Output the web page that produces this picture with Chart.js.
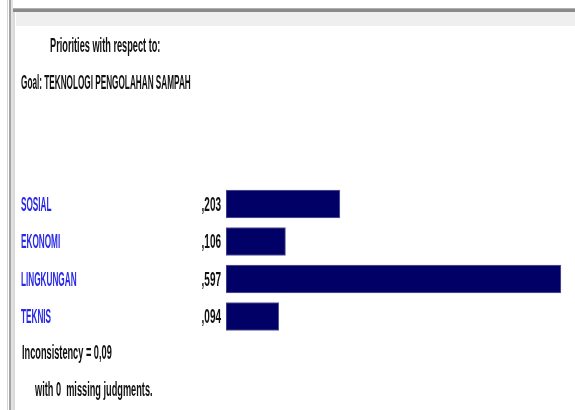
<!DOCTYPE html>
<html>
<head>
<meta charset="utf-8">
<script src="https://cdn.jsdelivr.net/npm/chart.js@4"></script>
<style>
  html, body { margin: 0; padding: 0; background: #fff; }
  #wrap { position: relative; width: 575px; height: 410px; }
</style>
</head>
<body>
<div id="wrap"><canvas id="priorityChart" width="575" height="410"></canvas></div>
<script>
  // data
  const categories = ['SOSIAL', 'EKONOMI', 'LINGKUNGAN', 'TEKNIS'];
  const priorities = [0.203, 0.106, 0.597, 0.094];
  const headerLines = ['Priorities with respect to:', 'Goal: TEKNOLOGI PENGOLAHAN SAMPAH'];
  const inconsistency = 0.09;
  const missingJudgments = 0;

  const FONT = 'bold 20px "Liberation Sans", Arial, sans-serif';
  // the original text is squashed sideways; caps get squeezed a bit harder
  const SQUEEZE_CAPS = 0.41;
  const SQUEEZE_TEXT = 0.46;
  const SQUEEZE_NUM = 0.5;

  // comma decimal: 0.203 -> 0,203
  function fmt(v, digits) {
    return v.toFixed(digits).replace('.', ',');
  }

  function squeezedText(ctx, text, x, y, color, align, sx) {
    ctx.save();
    ctx.font = FONT;
    ctx.fillStyle = color;
    ctx.textBaseline = 'middle';
    const w = ctx.measureText(text).width * sx;
    const left = align === 'right' ? x - w : x;
    ctx.translate(left, y);
    ctx.scale(sx, 1);
    ctx.textAlign = 'left';
    ctx.fillText(text, 0, 0);
    ctx.restore();
  }

  // window frame + all the text around the bars
  const framePlugin = {
    id: 'framePlugin',
    beforeDraw(chart) {
      const ctx = chart.ctx;
      ctx.save();
      ctx.fillStyle = '#ffffff';
      ctx.fillRect(0, 0, chart.width, chart.height);
      // left border
      ctx.fillStyle = '#d4d4d4';
      ctx.fillRect(7, 0, 1, chart.height);
      ctx.fillStyle = '#a4a4a4';
      ctx.fillRect(9, 0, 2, chart.height);
      ctx.fillStyle = '#e2e2e2';
      ctx.fillRect(11, 0, 2, chart.height);
      // top bar
      ctx.fillStyle = '#b0b0b0';
      ctx.fillRect(13, 8, chart.width - 13, 1);
      ctx.fillStyle = '#8a8a8a';
      ctx.fillRect(13, 9, chart.width - 13, 3);
      ctx.fillStyle = '#efefef';
      ctx.fillRect(16, 12, chart.width - 16, 14);
      ctx.fillStyle = '#dadada';
      ctx.fillRect(13, 12, 2, chart.height - 12);
      ctx.restore();
    },
    afterDraw(chart) {
      const ctx = chart.ctx;
      const yScale = chart.scales.y;
      const area = chart.chartArea;

      squeezedText(ctx, headerLines[0], 50, 46, '#111111', 'left', SQUEEZE_TEXT);
      squeezedText(ctx, headerLines[1], 21, 83, '#111111', 'left', SQUEEZE_CAPS);

      categories.forEach((name, i) => {
        const y = yScale.getPixelForValue(i) + 1;
        squeezedText(ctx, name, 21, y, '#2828e6', 'left', SQUEEZE_CAPS);
        let val = fmt(priorities[i], 3);
        if (val.startsWith('0')) val = val.slice(1);
        squeezedText(ctx, val, area.left - 5, y, '#111111', 'right', SQUEEZE_NUM);
      });

      squeezedText(ctx, 'Inconsistency = ' + fmt(inconsistency, 2), 22, 353, '#111111', 'left', SQUEEZE_TEXT);
      squeezedText(ctx, 'with ' + missingJudgments + '  missing judgments.', 35, 390, '#111111', 'left', SQUEEZE_TEXT);
    }
  };

  const ctx = document.getElementById('priorityChart').getContext('2d');
  const priorityChart = new Chart(ctx, {
    type: 'bar',
    data: {
      labels: categories,
      datasets: [{
        data: priorities,
        backgroundColor: '#000066',
        borderColor: '#5a5a9c',
        borderWidth: 1,
        borderSkipped: false,
        barThickness: 28
      }]
    },
    options: {
      indexAxis: 'y',
      responsive: false,
      animation: false,
      layout: {
        padding: { left: 226, right: 12.4, top: 185.25, bottom: 74.75 }
      },
      scales: {
        x: { display: false, min: 0, max: 0.6 },
        y: { display: false }
      },
      plugins: {
        legend: { display: false },
        tooltip: { enabled: false }
      }
    },
    plugins: [framePlugin]
  });
</script>
</body>
</html>
